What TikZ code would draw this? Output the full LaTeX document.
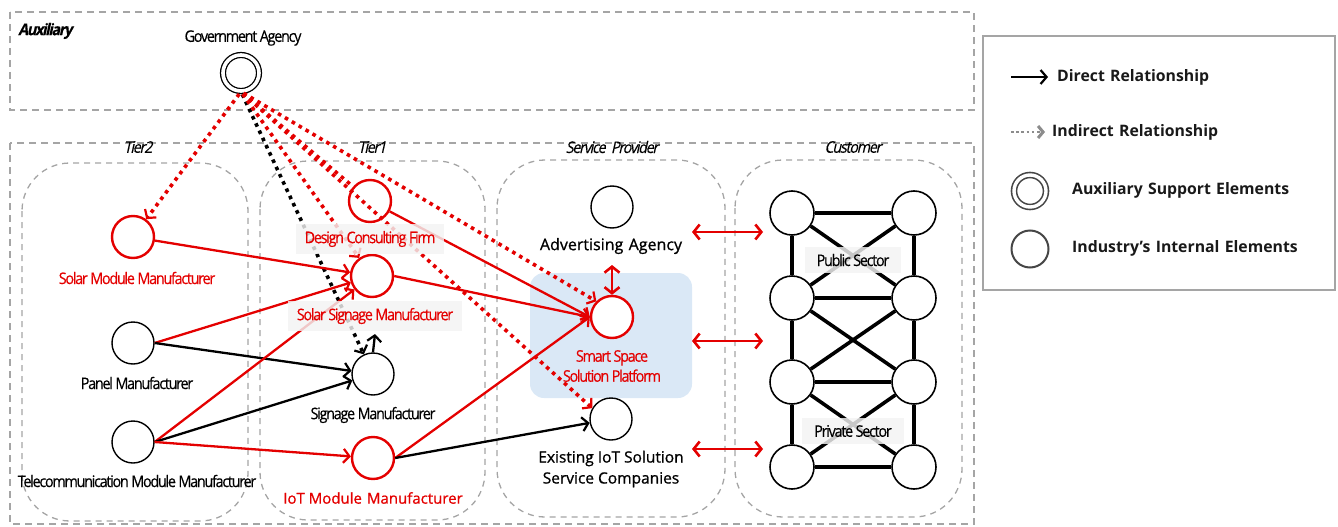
\documentclass[tikz,border=0pt]{standalone}
\usepackage{fontspec}
\setmainfont{Open Sans}
\newfontfamily\narrowfont[FakeStretch=0.9,LetterSpace=-8,FakeBold=0.4]{Open Sans}
\newfontfamily\slantfont[FakeStretch=0.9,LetterSpace=-8,FakeSlant=0.22,FakeBold=0.3]{Open Sans}
\newfontfamily\mediumfont[FakeBold=0.9]{Open Sans}
\usetikzlibrary{arrows.meta}

\definecolor{myred}{RGB}{228,0,0}
\definecolor{zonegray}{RGB}{165,165,165}
\definecolor{platformblue}{RGB}{218,232,246}
\definecolor{boxgray}{RGB}{243,243,243}
\definecolor{legendgray}{RGB}{70,70,70}
\definecolor{dotgray}{RGB}{140,140,140}

\tikzset{
  frame/.style={draw=zonegray, line width=1.3pt, dash pattern=on 7pt off 5pt},
  zone/.style={draw=zonegray, line width=1.3pt, dash pattern=on 6pt off 5pt, rounded corners=48pt},
  elem/.style={circle, draw=black, line width=1.4pt, fill=white, minimum size=42pt, inner sep=0pt},
  relem/.style={elem, draw=myred, line width=2.4pt},
  custelem/.style={elem, line width=1.6pt, minimum size=44pt},
  auxelem/.style={circle, draw=black, line width=1.3pt, double, double distance=3.6pt, fill=white, minimum size=36pt, inner sep=0pt},
  lab/.style={font=\narrowfont\fontsize{16}{18}\selectfont, inner sep=1pt},
  rlab/.style={lab, text=myred},
  plain/.style={font=\mediumfont\fontsize{16}{19}\selectfont, inner sep=1pt, align=center},
  tierlab/.style={font=\slantfont\fontsize{16}{18}\selectfont, inner sep=1pt},
  lbox/.style={fill=boxgray, fill opacity=0.82, text opacity=1, inner xsep=9pt, inner ysep=7pt},
  tip/.style={-{Straight Barb[length=6pt,width=14pt,line width=2.2pt]}},
  direct/.style={line width=2.3pt, tip},
  rdirect/.style={direct, draw=myred},
  indirect/.style={line width=3.6pt, dash pattern=on 3.6pt off 4.4pt, shorten <=3pt, tip},
  rindirect/.style={indirect, draw=myred},
  rplain/.style={indirect, draw=myred, -},
  both/.style={line width=2.6pt, draw=myred, {Straight Barb[length=6pt,width=15pt]}-{Straight Barb[length=6pt,width=15pt]}},
  custline/.style={line width=3.6pt},
  legtext/.style={font=\bfseries\fontsize{15.8}{18}\selectfont, text=black!90, anchor=west, inner sep=0pt}
}

\begin{document}
\begin{tikzpicture}[x=1pt,y=-1pt]
\useasboundingbox (0,0) rectangle (1338,527);

% outer frames
\draw[frame] (10,12) rectangle (974,110);
\draw[frame] (10,143) rectangle (974,524);
\node[tierlab, font=\slantfont\bfseries\fontsize{16}{18}\selectfont, anchor=west] (auxlab) at (17,31) {Auxiliary};

% tier columns
\draw[zone] (22,163) rectangle (248,521);
\draw[zone] (260,161) rectangle (485,520);
\draw[zone] (497,160) rectangle (725,517);
\draw[zone] (735,160) rectangle (962,517);
\node[tierlab] (t2) at (138,147) {Tier2};
\node[tierlab] (t1) at (372,147) {Tier1};
\node[tierlab] (tsp) at (612,147) {Service\,\,Provider};
\node[tierlab] (tcu) at (853,147) {Customer};

% platform highlight
\fill[platformblue, rounded corners=14pt] (530,273) rectangle (692,398);

% elements
\node[auxelem] (gov) at (241,73) {};
\node[relem] (solmod) at (133,237) {};
\node[elem] (panel) at (133,343) {};
\node[elem] (telecom) at (133,442) {};
\node[relem] (design) at (370,201) {};
\node[relem] (solsig) at (372,276) {};
\node[elem] (signage) at (373,374) {};
\node[relem] (iot) at (373,458) {};
\node[elem] (adv) at (612,207) {};
\node[relem] (smart) at (612,317) {};
\node[elem] (exist) at (611,419) {};

\node[custelem] (c11) at (792,213) {};
\node[custelem] (c12) at (914,213) {};
\node[custelem] (c21) at (792,298) {};
\node[custelem] (c22) at (914,298) {};
\node[custelem] (c31) at (792,382) {};
\node[custelem] (c32) at (914,382) {};
\node[custelem] (c41) at (792,467) {};
\node[custelem] (c42) at (914,467) {};

% indirect relationships from the government agency
\draw[rindirect] (gov.south) -- (solmod);
\draw[indirect, draw=black] (gov.south) -- (signage);
\draw[rplain] (gov.south) -- (design);
\draw[rindirect] (gov.south) -- (solsig);
\draw[rindirect] (gov.south) -- (smart.135);
\draw[rindirect] (gov.south) -- (exist.150);

% direct relationships
\draw[rdirect] (solmod) -- (solsig);
\draw[rdirect] (panel.east) -- (solsig);
\draw[direct] (panel.east) -- (signage);
\draw[rdirect] (telecom.east) -- (solsig);
\draw[direct] (telecom.east) -- (signage);
\draw[rdirect] (telecom.east) -- (iot);
\draw[rdirect] (design) -- (smart.west);
\draw[rdirect] (solsig.east) -- (smart.west);
\draw[rdirect] (iot.east) -- (smart.west);
\draw[direct] (iot.east) -- (exist);
\coordinate (sigup) at (375,334);
\draw[direct] (signage.north) -- (sigup);

% service provider to customers
\coordinate (advfoot) at (612,265);
\draw[both] (advfoot) -- (smart.north);
\coordinate (ca1) at (692,232);
\coordinate (cb1) at (763,232);
\coordinate (ca2) at (692,341);
\coordinate (cb2) at (763,341);
\coordinate (ca3) at (692,449);
\coordinate (cb3) at (763,449);
\draw[both] (ca1) -- (cb1);
\draw[both] (ca2) -- (cb2);
\draw[both] (ca3) -- (cb3);

% customer network
\draw[custline] (c11) -- (c12);
\draw[custline] (c21) -- (c22);
\draw[custline] (c31) -- (c32);
\draw[custline] (c41) -- (c42);
\draw[custline] (c11) -- (c21);
\draw[custline] (c21) -- (c31);
\draw[custline] (c31) -- (c41);
\draw[custline] (c12) -- (c22);
\draw[custline] (c22) -- (c32);
\draw[custline] (c32) -- (c42);
\draw[custline] (c11) -- (c22);
\draw[custline] (c12) -- (c21);
\draw[custline] (c21) -- (c32);
\draw[custline] (c22) -- (c31);
\draw[custline] (c31) -- (c42);
\draw[custline] (c32) -- (c41);

% labels
\node[lab] (govlab) at (243,38) {Government Agency};
\node[rlab] (solmodlab) at (137,278) {Solar Module Manufacturer};
\node[lab] (panellab) at (137,383) {Panel Manufacturer};
\node[lab] (telecomlab) at (137,481) {Telecommunication Module Manufacturer};
\node[rlab, lbox] (designlab) at (370,239) {Design Consulting Firm};
\node[rlab, lbox] (solsiglab) at (375,316) {Solar Signage Manufacturer};
\node[lab] (signagelab) at (373,415) {Signage Manufacturer};
\node[plain, text=myred, font=\mediumfont\fontsize{15}{18}\selectfont] (iotlab) at (373,498) {IoT Module\,\,Manufacturer};
\node[plain] (advlab) at (611,246) {Advertising\,\,Agency};
\node[rlab, align=center, font=\narrowfont\fontsize{16}{20}\selectfont] (smartlab) at (612,366) {Smart Space\\Solution Platform};
\node[plain, font=\mediumfont\fontsize{15.5}{21}\selectfont] (existlab) at (611,469) {Existing IoT Solution\\Service Companies};
\node[lab, lbox, inner xsep=12pt] (publab) at (853,260) {Public Sector};
\node[lab, lbox, inner xsep=12pt] (privlab) at (853,431) {Private Sector};

% legend
\draw[draw=zonegray, line width=1.3pt] (983,36) rectangle (1335,290);
\coordinate (ld1) at (1011,77);
\coordinate (ld2) at (1048,77);
\draw[direct, line width=2.6pt] (ld1) -- (ld2);
\node[legtext] (ldtext) at (1057,77) {Direct\,\,Relationship};
\coordinate (li1) at (1011,132);
\coordinate (li2) at (1045,132);
\draw[draw=dotgray, line width=2.6pt, dash pattern=on 2.6pt off 2.6pt, -{Straight Barb[length=5pt,width=12pt,line width=3pt]}] (li1) -- (li2);
\node[legtext] (litext) at (1052,132) {Indirect\,\,Relationship};
\node[auxelem, draw=legendgray, line width=1.6pt, double distance=3.4pt, minimum size=32pt] (legaux) at (1030,191) {};
\node[legtext] (latext) at (1072,190) {Auxiliary\,\,Support\,\,Elements};
\node[elem, draw=legendgray, line width=2pt, minimum size=37pt] (legint) at (1030,249) {};
\node[legtext] (lntext) at (1072,248) {Industry’s\,\,Internal\,\,Elements};
\end{tikzpicture}
\end{document}
